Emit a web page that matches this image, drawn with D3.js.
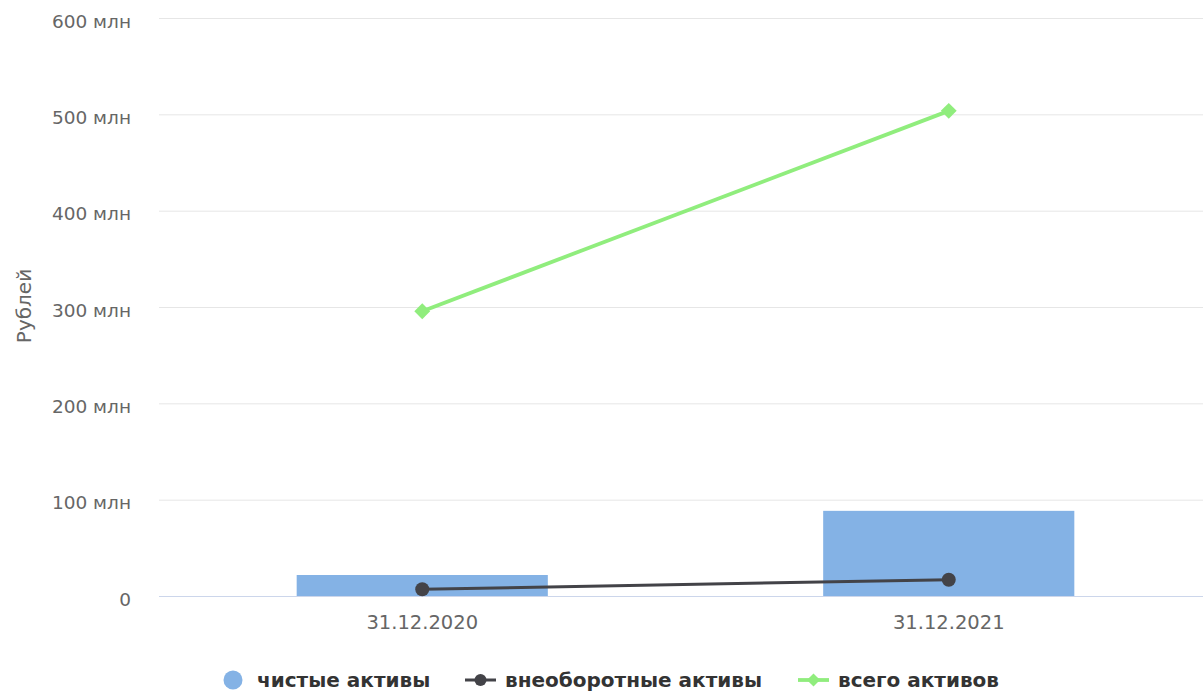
<!DOCTYPE html>
<html>
<head>
<meta charset="utf-8">
<script src="https://cdn.jsdelivr.net/npm/d3@7"></script>
<style>
  html, body { margin: 0; padding: 0; background: #fff; }
  svg { display: block; font-family: "DejaVu Sans", Verdana, sans-serif; }
</style>
</head>
<body>
<svg id="chart" width="1203" height="698"></svg>
<script>
// Balance-sheet figures, in rubles
const categories = ["31.12.2020", "31.12.2021"];
const netAssets = [21.8e6, 88.4e6];        // чистые активы (bars)
const nonCurrentAssets = [7.0e6, 16.9e6];  // внеоборотные активы (line)
const totalAssets = [295.6e6, 503.6e6];    // всего активов (line)
const yTicks = [0, 100e6, 200e6, 300e6, 400e6, 500e6, 600e6];
const seriesNames = ["чистые активы", "внеоборотные активы", "всего активов"];
const yTitle = "Рублей";

const colors = { bar: "#84b2e5", dark: "#434348", green: "#90ed7d" };

const svg = d3.select("#chart");
const W = 1203;
const plot = { left: 159, right: 1212, top: 18, bottom: 596 };

const x = d3.scaleBand().domain(categories).range([plot.left, plot.right]);
const y = d3.scaleLinear().domain([0, 600e6]).range([plot.bottom, plot.top]);

const fmt = v => v === 0 ? "0" : (v / 1e6) + " млн";

// horizontal grid
svg.append("g").selectAll("line")
  .data(yTicks.filter(t => t > 0))
  .join("line")
  .attr("x1", plot.left).attr("x2", W)
  .attr("y1", d => y(d) + 0.5).attr("y2", d => y(d) + 0.5)
  .attr("stroke", "#e6e6e6").attr("stroke-width", 1);

// y axis labels
const yAxis = d3.axisLeft(y).tickValues(yTicks).tickFormat(fmt).tickSize(0).tickPadding(0);
const gy = svg.append("g").attr("transform", `translate(${plot.left - 28},0)`).call(yAxis);
gy.select(".domain").remove();
gy.selectAll("text")
  .attr("fill", "#666").attr("font-size", 18.5)
  .attr("font-family", "DejaVu Sans, Verdana, sans-serif")
  .attr("dy", "0.5em");

// y axis title
svg.append("text")
  .attr("transform", `translate(31,306) rotate(-90)`)
  .attr("text-anchor", "middle")
  .attr("fill", "#666").attr("font-size", 20)
  .text(yTitle);

// bars
const barW = x.bandwidth() * 0.477;
svg.append("g").selectAll("rect")
  .data(netAssets)
  .join("rect")
  .attr("x", (d, i) => x(categories[i]) + x.bandwidth() / 2 - barW / 2)
  .attr("y", d => y(d))
  .attr("width", barW)
  .attr("height", d => y(0) - y(d))
  .attr("fill", colors.bar);

// x axis baseline
svg.append("line")
  .attr("x1", plot.left).attr("x2", W)
  .attr("y1", y(0) + 0.5).attr("y2", y(0) + 0.5)
  .attr("stroke", "#ccd6eb").attr("stroke-width", 1);

// x axis labels
const xAxis = d3.axisBottom(x).tickSize(0).tickPadding(0);
const gx = svg.append("g").attr("transform", `translate(0,${plot.bottom})`).call(xAxis);
gx.select(".domain").remove();
gx.selectAll("text")
  .attr("fill", "#666").attr("font-size", 19.5)
  .attr("font-family", "DejaVu Sans, Verdana, sans-serif")
  .attr("y", 33).attr("dy", 0);

const cx = (d, i) => x(categories[i]) + x.bandwidth() / 2;
const line = d3.line().x(cx).y(d => y(d));

// non-current assets line
svg.append("path").datum(nonCurrentAssets)
  .attr("d", line).attr("fill", "none")
  .attr("stroke", colors.dark).attr("stroke-width", 3);
svg.append("g").selectAll("circle")
  .data(nonCurrentAssets).join("circle")
  .attr("cx", cx).attr("cy", d => y(d)).attr("r", 7)
  .attr("fill", colors.dark);

// total assets line
svg.append("path").datum(totalAssets)
  .attr("d", line).attr("fill", "none")
  .attr("stroke", colors.green).attr("stroke-width", 3.8);
const diamond = d3.symbol().type(d3.symbolDiamond2).size(160);
svg.append("g").selectAll("path")
  .data(totalAssets).join("path")
  .attr("d", diamond)
  .attr("transform", (d, i) => `translate(${cx(d, i)},${y(d)})`)
  .attr("fill", colors.green);

// legend
const ly = 680;
const legend = svg.append("g").attr("font-size", 20).attr("font-weight", "bold").attr("fill", "#333");

legend.append("circle").attr("cx", 233).attr("cy", ly).attr("r", 9.5).attr("fill", colors.bar);
legend.append("text").attr("x", 257).attr("y", ly).attr("dy", "0.36em").text(seriesNames[0]);

legend.append("line").attr("x1", 465).attr("x2", 496).attr("y1", ly).attr("y2", ly)
  .attr("stroke", colors.dark).attr("stroke-width", 3);
legend.append("circle").attr("cx", 480.5).attr("cy", ly).attr("r", 6).attr("fill", colors.dark);
legend.append("text").attr("x", 505).attr("y", ly).attr("dy", "0.36em").text(seriesNames[1]);

legend.append("line").attr("x1", 798).attr("x2", 829).attr("y1", ly).attr("y2", ly)
  .attr("stroke", colors.green).attr("stroke-width", 3.8);
legend.append("path").attr("d", d3.symbol().type(d3.symbolDiamond2).size(110))
  .attr("transform", `translate(813.5,${ly})`).attr("fill", colors.green);
legend.append("text").attr("x", 838).attr("y", ly).attr("dy", "0.36em").text(seriesNames[2]);
</script>
</body>
</html>
